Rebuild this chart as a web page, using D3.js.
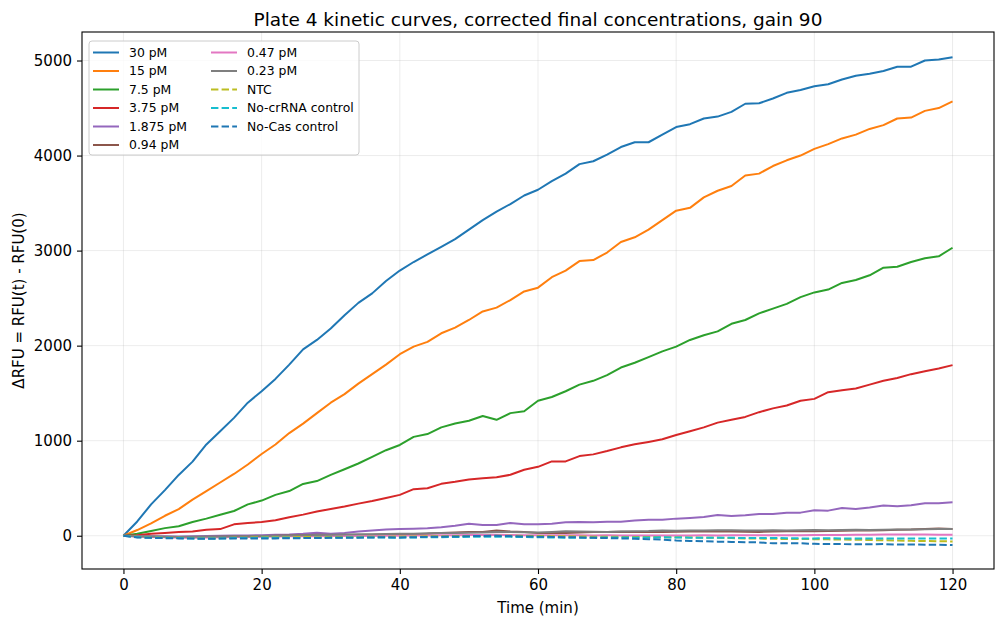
<!DOCTYPE html>
<html>
<head>
<meta charset="utf-8">
<script src="https://cdn.jsdelivr.net/npm/d3@7"></script>
<style>
  body { margin: 0; background: #fff; }
  svg { font-family: "DejaVu Sans", sans-serif; }
</style>
</head>
<body>
<div id="chart"></div>
<script>
// time points (min), one reading every 2 min
const times = d3.range(0, 121, 2);

const labels = ['30 pM', '15 pM', '7.5 pM', '3.75 pM', '1.875 pM', '0.94 pM',
  '0.47 pM', '0.23 pM', 'NTC', 'No-crRNA control', 'No-Cas control'];
const colors = ['#1f77b4', '#ff7f0e', '#2ca02c', '#d62728', '#9467bd', '#8c564b',
  '#e377c2', '#7f7f7f', '#bcbd22', '#17becf', '#1f77b4'];
const dashed = [false, false, false, false, false, false, false, false, true, true, true];

const pm30 = [0, 150, 330, 480, 640, 780, 960, 1100, 1240, 1400, 1520,
  1650, 1800, 1960, 2060, 2180, 2320, 2450, 2550, 2680, 2790,
  2880, 2960, 3040, 3120, 3220, 3320, 3410, 3490, 3580, 3640,
  3730, 3810, 3910, 3940, 4010, 4090, 4140, 4140, 4220, 4300,
  4330, 4390, 4410, 4460, 4545, 4550, 4600, 4660, 4690, 4730,
  4750, 4800, 4840, 4860, 4890, 4935, 4935, 5000, 5010, 5035];
const pm15 = [0, 60, 130, 210, 280, 380, 470, 560, 650, 750, 860,
  960, 1080, 1180, 1290, 1400, 1490, 1600, 1700, 1800, 1910,
  1990, 2040, 2130, 2190, 2270, 2360, 2400, 2480, 2570, 2610,
  2720, 2790, 2890, 2900, 2980, 3090, 3140, 3220, 3320, 3420,
  3450, 3560, 3630, 3680, 3790, 3810, 3890, 3950, 4000, 4070,
  4120, 4180, 4220, 4280, 4320, 4390, 4400, 4470, 4500, 4570];
const pm7_5 = [0, 20, 50, 80, 100, 145, 180, 220, 260, 330, 370,
  430, 470, 545, 575, 640, 700, 760, 830, 900, 955,
  1040, 1070, 1140, 1180, 1210, 1260, 1220, 1290, 1310, 1420,
  1460, 1520, 1590, 1630, 1690, 1770, 1820, 1880, 1940, 1990,
  2060, 2110, 2150, 2230, 2270, 2340, 2390, 2440, 2510, 2560,
  2590, 2660, 2690, 2740, 2820, 2830, 2880, 2920, 2940, 3030];
const pm3_75 = [0, 5, 20, 30, 40, 45, 63, 70, 120, 133, 145,
  162, 195, 222, 254, 282, 307, 338, 366, 398, 430,
  490, 500, 546, 567, 592, 606, 616, 641, 694, 725,
  782, 782, 838, 856, 891, 930, 962, 987, 1015, 1060,
  1100, 1140, 1190, 1220, 1250, 1300, 1340, 1370, 1420, 1440,
  1510, 1530, 1550, 1590, 1630, 1660, 1700, 1730, 1760, 1795];
const pm1_875 = [0, -2, -5, -5, -8, -5, -2, 0, 2, 3, 5,
  10, 12, 20, 32, 22, 30, 45, 55, 65, 70,
  74, 80, 90, 105, 127, 112, 112, 134, 122, 122,
  127, 141, 145, 141, 148, 148, 159, 169, 169, 180,
  187, 197, 218, 208, 215, 229, 229, 243, 243, 268,
  264, 292, 282, 296, 317, 310, 320, 341, 341, 352];
const pm0_94 = [0, -5, -10, -12, -15, -15, -12, -10, -8, -10, -5,
  0, 2, 5, 10, 8, 5, 8, 10, 12, 15,
  18, 20, 30, 35, 38, 40, 55, 45, 40, 30,
  28, 30, 35, 38, 40, 42, 40, 38, 40, 42,
  45, 45, 48, 45, 42, 40, 45, 48, 50, 48,
  50, 52, 55, 55, 58, 62, 65, 72, 75, 72];
const pm0_47 = [0, -8, -12, -15, -18, -20, -18, -15, -14, -12, -10,
  -8, -6, -5, -5, -4, -3, -2, -2, 0, 0,
  2, 3, 5, 5, 8, 8, 10, 8, 6, 5,
  5, 4, 4, 3, 4, 3, 3, 2, 3, 3,
  3, 4, 3, 4, 5, 5, 5, 6, 6, 7,
  8, 8, 10, 10, 12, 12, 14, 12, 10, 10];
const pm0_23 = [0, -5, -8, -10, -12, -10, -8, -8, -5, -5, -2,
  0, 3, 5, 8, 10, 12, 15, 15, 18, 20,
  22, 25, 28, 30, 32, 35, 38, 38, 36, 35,
  40, 48, 45, 42, 40, 45, 48, 50, 56, 52,
  55, 55, 58, 58, 56, 55, 58, 56, 58, 60,
  58, 60, 62, 60, 62, 65, 66, 68, 70, 70];
const ntc = [0, -12, -18, -20, -22, -25, -28, -25, -22, -20, -18,
  -16, -15, -14, -15, -14, -12, -12, -10, -10, -8,
  -8, -6, -5, -4, -3, -2, 0, 0, -2, -3,
  -5, -6, -8, -10, -10, -12, -14, -14, -15, -16,
  -18, -20, -22, -25, -28, -30, -32, -34, -35, -36,
  -38, -40, -42, -45, -48, -50, -54, -56, -58, -60];
const noCrRNA = [0, -15, -20, -22, -25, -28, -30, -28, -25, -24, -22,
  -22, -22, -24, -22, -20, -20, -18, -18, -20, -20,
  -18, -16, -15, -14, -12, -10, -10, -12, -14, -16,
  -18, -20, -22, -20, -18, -18, -20, -18, -16, -18,
  -20, -22, -20, -22, -24, -25, -24, -26, -28, -28,
  -26, -28, -28, -30, -30, -28, -30, -30, -28, -28];
const noCas = [0, -18, -22, -25, -28, -30, -32, -30, -28, -30, -28,
  -28, -26, -25, -24, -22, -20, -20, -18, -16, -18,
  -16, -12, -10, -8, -5, -2, 0, -4, -8, -10,
  -12, -15, -18, -22, -25, -28, -32, -36, -40, -50,
  -55, -58, -62, -65, -68, -70, -80, -78, -80, -85,
  -88, -88, -90, -90, -88, -92, -92, -95, -95, -98];

const seriesValues = [pm30, pm15, pm7_5, pm3_75, pm1_875, pm0_94,
  pm0_47, pm0_23, ntc, noCrRNA, noCas];

const xTicks = [0, 20, 40, 60, 80, 100, 120];
const yTicks = [0, 1000, 2000, 3000, 4000, 5000];

const width = 1005, height = 628;
const margin = { top: 32, right: 11, bottom: 59, left: 82 };
const innerW = width - margin.left - margin.right;
const innerH = height - margin.top - margin.bottom;

const svg = d3.select('#chart').append('svg')
  .attr('width', width)
  .attr('height', height);

const x = d3.scaleLinear().domain([-6, 126]).range([0, innerW]);
const y = d3.scaleLinear().domain([-350, 5300]).range([innerH, 0]);

const g = svg.append('g')
  .attr('transform', 'translate(' + margin.left + ',' + margin.top + ')');

// grid
g.append('g').selectAll('line').data(xTicks).enter().append('line')
  .attr('x1', d => x(d)).attr('x2', d => x(d))
  .attr('y1', 0).attr('y2', innerH)
  .attr('stroke', '#b0b0b0').attr('stroke-opacity', 0.3).attr('stroke-width', 0.8);
g.append('g').selectAll('line').data(yTicks).enter().append('line')
  .attr('x1', 0).attr('x2', innerW)
  .attr('y1', d => y(d)).attr('y2', d => y(d))
  .attr('stroke', '#b0b0b0').attr('stroke-opacity', 0.3).attr('stroke-width', 0.8);

// curves
const line = d3.line()
  .x((d, i) => x(times[i]))
  .y(d => y(d));

g.append('g').selectAll('path').data(seriesValues).enter().append('path')
  .attr('d', d => line(d))
  .attr('fill', 'none')
  .attr('stroke', (d, i) => colors[i])
  .attr('stroke-width', 2)
  .attr('stroke-linejoin', 'round')
  .attr('stroke-dasharray', (d, i) => dashed[i] ? '7.4,3.2' : null);

// axes
const xAxis = g.append('g')
  .attr('transform', 'translate(0,' + innerH + ')')
  .call(d3.axisBottom(x).tickValues(xTicks).tickFormat(d3.format('d')).tickSize(5).tickPadding(5));
const yAxis = g.append('g')
  .call(d3.axisLeft(y).tickValues(yTicks).tickFormat(d3.format('d')).tickSize(5).tickPadding(5));
[xAxis, yAxis].forEach(a => {
  a.select('.domain').remove();
  a.selectAll('text').attr('font-size', 15).attr('fill', '#000')
    .attr('font-family', '"DejaVu Sans", sans-serif');
  a.selectAll('line').attr('stroke', '#000').attr('stroke-width', 1.1);
});

g.append('rect')
  .attr('width', innerW).attr('height', innerH)
  .attr('fill', 'none').attr('stroke', '#000').attr('stroke-width', 1.1);

// labels
svg.append('text')
  .attr('x', margin.left + innerW / 2).attr('y', 26)
  .attr('text-anchor', 'middle').attr('font-size', 18.5)
  .text('Plate 4 kinetic curves, corrected final concentrations, gain 90');
svg.append('text')
  .attr('x', margin.left + innerW / 2).attr('y', 613)
  .attr('text-anchor', 'middle').attr('font-size', 15)
  .text('Time (min)');
svg.append('text')
  .attr('transform', 'translate(19,' + (margin.top + innerH / 2) + ') rotate(-90)')
  .attr('text-anchor', 'middle').attr('dy', '0.35em').attr('font-size', 15)
  .text('ΔRFU = RFU(t) - RFU(0)');

// legend
const legend = g.append('g').attr('transform', 'translate(7,9)');
legend.append('rect')
  .attr('width', 270).attr('height', 114).attr('rx', 3)
  .attr('fill', '#fff').attr('fill-opacity', 0.8)
  .attr('stroke', '#ccc').attr('stroke-width', 1);
const item = legend.selectAll('.item').data(labels).enter().append('g')
  .attr('class', 'item')
  .attr('transform', (d, i) => 'translate(' + (i < 6 ? 4 : 122) + ',' + (11.5 + (i % 6) * 18.5) + ')');
item.append('line')
  .attr('x1', 0).attr('x2', 26)
  .attr('stroke', (d, i) => colors[i]).attr('stroke-width', 2)
  .attr('stroke-dasharray', (d, i) => dashed[i] ? '7.4,3.2' : null);
item.append('text')
  .attr('x', 36).attr('dy', '0.35em')
  .attr('font-size', 12.4)
  .text(d => d);
</script>
</body>
</html>
